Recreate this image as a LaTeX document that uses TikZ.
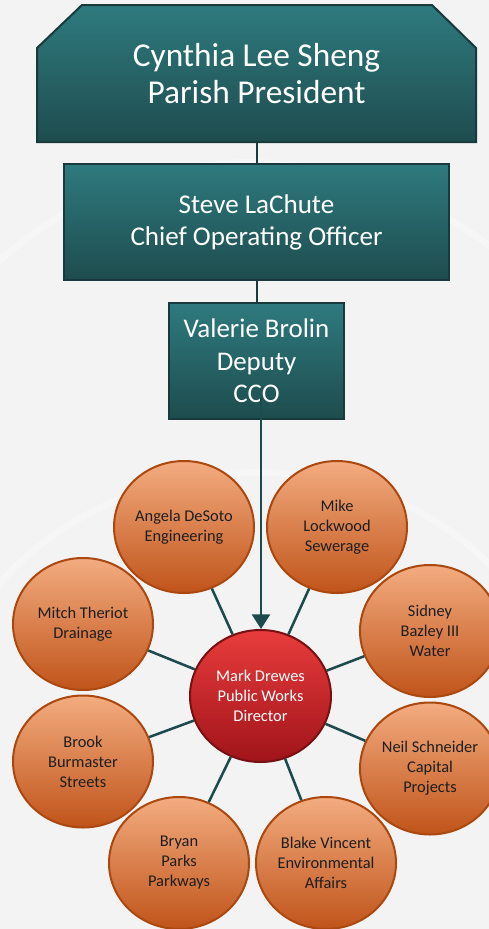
\documentclass[tikz,border=0pt]{standalone}
\usepackage{fontspec}
\setmainfont{Carlito}
\usetikzlibrary{shapes.geometric,arrows.meta}

\definecolor{tealtop}{RGB}{46,122,126}
\definecolor{tealbot}{RGB}{30,76,78}
\definecolor{tealedge}{RGB}{24,58,60}
\definecolor{orgtop}{RGB}{243,172,128}
\definecolor{orgbot}{RGB}{192,84,26}
\definecolor{orgedge}{RGB}{170,72,16}
\definecolor{redtop}{RGB}{232,60,60}
\definecolor{redbot}{RGB}{160,20,26}
\definecolor{rededge}{RGB}{118,16,18}
\definecolor{linkc}{RGB}{29,74,76}
\definecolor{inkc}{RGB}{30,30,30}
\definecolor{bgc}{RGB}{243,243,243}

\tikzset{
  chief/.style={draw=tealedge, line width=1.5pt, top color=tealtop, bottom color=tealbot,
    text=white, align=center, inner sep=0pt},
  unit/.style={ellipse, draw=orgedge, line width=1.5pt, top color=orgtop, bottom color=orgbot,
    text=inkc, align=center, minimum width=105pt, minimum height=99pt, inner sep=0pt,
    font=\fontsize{12.3}{15}\selectfont},
  link/.style={draw=linkc, line width=1.9pt},
}

\begin{document}
\begin{tikzpicture}[x=0.75pt,y=0.75pt,yscale=-1,xscale=1]
\useasboundingbox (0,0) rectangle (489,929);
%Background
\fill [bgc] (0,0) rectangle (489,929);
\draw [white, line width=5pt, opacity=0.3] (-40,300) .. controls (120,120) and (360,120) .. (530,280);
\draw [white, line width=5pt, opacity=0.3] (-40,640) .. controls (80,420) and (420,420) .. (530,620);

%Shape: Chamfered box, president
\draw [chief] (82,5) -- (432,5) -- (476,48) -- (476,142) -- (37,142) -- (37,48) -- cycle;
\draw (256.5,73.5) node [align=center, text=white, inner sep=0pt, minimum width=329.25pt, minimum height=102.75pt,
  font=\fontsize{25}{28}\selectfont] (pres) {Cynthia Lee Sheng\\Parish President};
%Shape: Rectangle, COO
\draw (256.5,222) node [chief, minimum width=288.75pt, minimum height=87pt, font=\fontsize{20.3}{24}\selectfont] (coo)
  {Steve LaChute\\Chief Operating Officer};
%Shape: Rectangle, deputy
\draw (256.5,361) node [chief, minimum width=131.25pt, minimum height=87pt, font=\fontsize{20.2}{24.5}\selectfont] (deputy)
  {Valerie Brolin\\Deputy\\CCO};

%Straight Lines between boxes
\draw [draw=tealedge, line width=1.5pt] (pres) -- (coo);
\draw [draw=tealedge, line width=1.5pt] (coo) -- (deputy);

%Shape: Ellipse, hub
\draw (260.5,696) node [unit, draw=rededge, top color=redtop, bottom color=redbot, text=white,
  minimum width=105.75pt] (hub) {Mark Drewes\\Public Works\\Director};

%Shape: Ellipses, divisions
\draw (184,527) node [unit] (eng) {Angela DeSoto\\Engineering};
\draw (337,527) node [unit] (sew) {Mike\\Lockwood\\Sewerage};
\draw (83,624) node [unit] (drain) {Mitch Theriot\\Drainage};
\draw (430,631) node [unit] (water) {Sidney\\Bazley III\\Water};
\draw (83,761.5) node [unit] (streets) {Brook\\Burmaster\\Streets};
\draw (430,768.5) node [unit] (capital) {Neil Schneider\\Capital\\Projects};
\draw (179,863) node [unit] (parks) {Bryan\\Parks\\Parkways};
\draw (326,863) node [unit] (envir) {Blake Vincent\\Environmental\\Affairs};

%Straight Lines, hub to divisions
\foreach \unitname in {eng,sew,drain,water,streets,capital,parks,envir}
  \draw [link] (hub) -- (\unitname);

%Arrow from deputy to hub
\coordinate (feed) at (261,397);
\draw [draw=linkc, line width=1.9pt, -{Triangle[width=13.5pt,length=11pt]}] (feed) -- (feed |- hub.north);

\end{tikzpicture}
\end{document}
